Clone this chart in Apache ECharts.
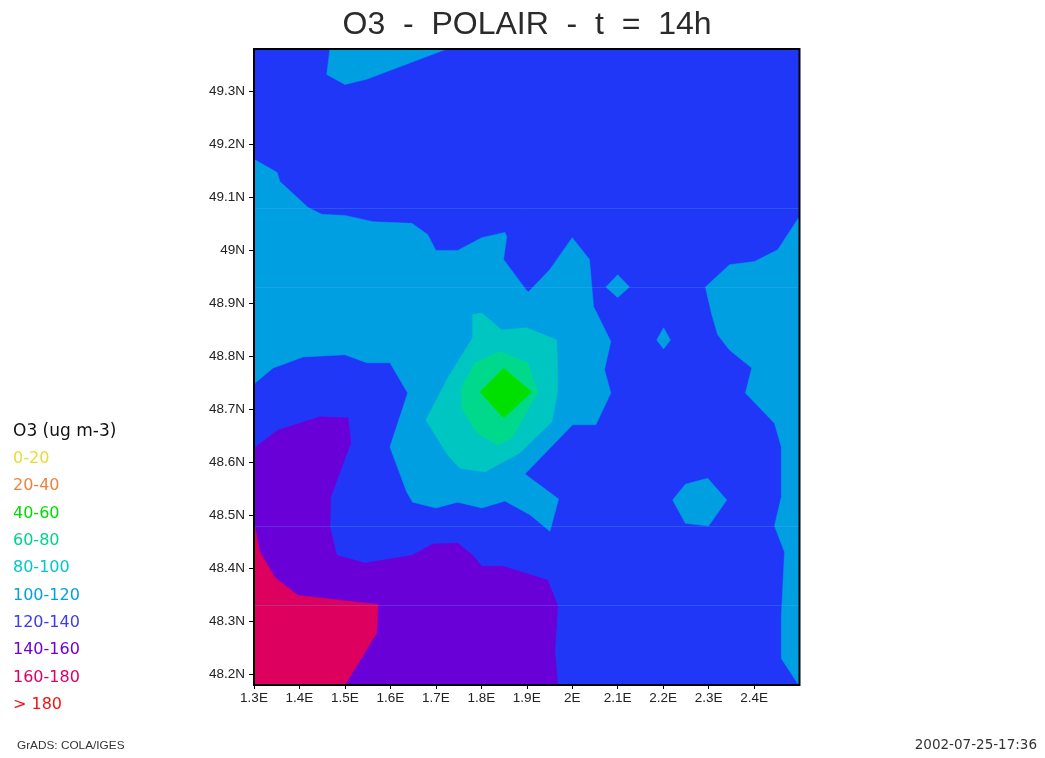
<!DOCTYPE html>
<html><head><meta charset="utf-8">
<style>html,body{margin:0;padding:0;background:#fff}#c{width:1045px;height:758px}</style>
<script src="https://cdn.jsdelivr.net/npm/echarts@6/dist/echarts.min.js"></script>
</head><body><div id="c"></div>
<script>
const xTicks=[1.3,1.4,1.5,1.6,1.7,1.8,1.9,2.0,2.1,2.2,2.3,2.4];
const xTickLabels=['1.3E','1.4E','1.5E','1.6E','1.7E','1.8E','1.9E','2E','2.1E','2.2E','2.3E','2.4E'];
const yTicks=[48.2,48.3,48.4,48.5,48.6,48.7,48.8,48.9,49.0,49.1,49.2,49.3];
const yTickLabels=['48.2N','48.3N','48.4N','48.5N','48.6N','48.7N','48.8N','48.9N','49N','49.1N','49.2N','49.3N'];
const legendLabels=['0-20','20-40','40-60','60-80','80-100','100-120','120-140','140-160','160-180','> 180'];
const legendColors=['#e6dc32','#f0823c','#00dc00','#00d28c','#00c8c8','#00a0e6','#3c3cf0','#6e00dc','#dc0064','#f01414'];
const seamLats=[49.08,48.93,48.48,48.33];

// contour bands: polygons of [lon, lat]
const band120_140=[[[1.3,48.18],[2.5,48.18],[2.5,49.38],[1.3,49.38]]];
const band100_120=[
 [[1.467,49.38],[1.46,49.332],[1.5,49.313],[1.548,49.323],[1.724,49.38]],
 [[1.3,49.172],[1.351,49.147],[1.357,49.13],[1.419,49.081],[1.449,49.068],[1.5,49.066],[1.562,49.054],[1.647,49.051],[1.682,49.03],[1.7,49.0],[1.748,49.0],[1.801,49.024],[1.852,49.034],[1.856,49.026],[1.849,48.983],[1.9,48.924],[1.904,48.922],[1.951,48.964],[2.0,49.024],[2.038,48.983],[2.047,48.894],[2.085,48.828],[2.071,48.775],[2.085,48.731],[2.052,48.671],[2.001,48.671],[1.896,48.578],[1.97,48.531],[1.951,48.47],[1.907,48.501],[1.852,48.527],[1.801,48.514],[1.748,48.525],[1.7,48.514],[1.649,48.525],[1.636,48.544],[1.599,48.629],[1.638,48.731],[1.599,48.788],[1.548,48.788],[1.5,48.803],[1.408,48.799],[1.342,48.778],[1.3,48.748]],
 [[2.5,49.064],[2.452,49.001],[2.401,48.979],[2.346,48.973],[2.293,48.931],[2.307,48.879],[2.32,48.841],[2.346,48.812],[2.395,48.778],[2.381,48.731],[2.445,48.674],[2.46,48.629],[2.46,48.535],[2.445,48.48],[2.467,48.431],[2.46,48.308],[2.46,48.23],[2.496,48.183],[2.5,48.18]],
 [[2.074,48.931],[2.1,48.954],[2.126,48.931],[2.1,48.911]],
 [[2.186,48.831],[2.201,48.854],[2.216,48.831],[2.201,48.814]],
 [[2.221,48.529],[2.249,48.559],[2.298,48.57],[2.34,48.529],[2.3,48.48],[2.249,48.485]]
];
const band80_100=[[[1.781,48.879],[1.801,48.882],[1.845,48.85],[1.9,48.854],[1.966,48.831],[1.968,48.771],[1.968,48.733],[1.955,48.676],[1.885,48.618],[1.808,48.582],[1.753,48.589],[1.726,48.614],[1.678,48.68],[1.726,48.759],[1.781,48.835]]];
const band60_80=[[[1.841,48.809],[1.902,48.788],[1.924,48.733],[1.867,48.646],[1.836,48.633],[1.79,48.656],[1.757,48.703],[1.757,48.741],[1.786,48.788]]];
const band40_60=[[[1.849,48.778],[1.911,48.733],[1.849,48.684],[1.797,48.733]]];
const band140_160=[[[1.3,48.627],[1.353,48.661],[1.445,48.686],[1.507,48.684],[1.513,48.637],[1.469,48.535],[1.467,48.478],[1.482,48.425],[1.544,48.41],[1.649,48.425],[1.693,48.446],[1.748,48.448],[1.781,48.425],[1.801,48.404],[1.848,48.404],[1.946,48.378],[1.968,48.33],[1.962,48.245],[1.968,48.18],[1.3,48.18]]];
const band160_180=[[[1.3,48.487],[1.313,48.431],[1.346,48.383],[1.397,48.349],[1.573,48.332],[1.57,48.278],[1.5,48.18],[1.3,48.18]]];

const fillColors={'120-140':'#2137f8','100-120':'#009fe2','80-100':'#00c6c2','60-80':'#00d98c','40-60':'#00e000','140-160':'#6a00d8','160-180':'#de005e'};
const drawOrder=[['120-140',band120_140],['100-120',band100_120],['80-100',band80_100],['60-80',band60_80],['40-60',band40_60],['140-160',band140_160],['160-180',band160_180],['0-20',[]],['20-40',[]],['> 180',[]]];

const series=drawOrder.map(([name,polys])=>({
  name,type:'custom',coordinateSystem:'cartesian2d',clip:true,silent:true,
  itemStyle:{color:fillColors[name]||'#fff'},
  data:polys.map(p=>p[0]),
  renderItem:(params,api)=>({type:'polygon',
    shape:{points:polys[params.dataIndex].map(p=>api.coord(p))},
    style:{fill:fillColors[name],stroke:fillColors[name],lineWidth:0.5}})
}));
series[6].markLine={silent:true,animation:false,symbol:'none',label:{show:false},
  lineStyle:{type:'solid',width:1,color:'rgba(90,190,255,0.22)'},data:seamLats.map(v=>({yAxis:v}))};

const chart=echarts.init(document.getElementById('c'),null,{renderer:'canvas'});
const tickFont={fontFamily:'Liberation Sans',fontSize:13.5,color:'#222'};
const plain=(size,family,color)=>({fontFamily:family,fontWeight:'normal',fontSize:size,color});
chart.setOption({
  animation:false,backgroundColor:'#fff',
  title:[
   {text:'O3  -  POLAIR  -  t  =  14h',left:522,top:4,textAlign:'center',textStyle:plain(32,'Liberation Sans','#2a2a2a')},
   {text:'O3 (ug m-3)',left:8,top:418,textStyle:plain(17,'DejaVu Sans','#111')},
   {text:'GrADS: COLA/IGES',left:12,top:735,textStyle:plain(11.8,'Liberation Sans','#333')},
   {text:'2002-07-25-17:36',right:3,top:733,textStyle:plain(13.5,'DejaVu Sans','#333')}
  ],
  legend:{orient:'vertical',left:8,top:451,padding:0,itemWidth:0,itemHeight:14,itemGap:11.33,selectedMode:false,
    data:legendLabels.map((n,i)=>({name:n,icon:'rect',itemStyle:{opacity:0},textStyle:{color:legendColors[i],fontFamily:'DejaVu Sans',fontSize:16}}))},
  grid:{left:254,top:49,width:545.5,height:636,show:true,z:10,backgroundColor:'transparent',borderColor:'#000',borderWidth:2},
  xAxis:{type:'value',min:1.3,max:2.5,z:10,splitLine:{show:false},
    axisLine:{show:false},axisTick:{customValues:xTicks,length:4,lineStyle:{color:'#000',width:1}},
    axisLabel:{customValues:xTicks,formatter:v=>xTickLabels[xTicks.indexOf(v)],margin:6,...tickFont}},
  yAxis:{type:'value',min:48.18,max:49.38,z:10,splitLine:{show:false},
    axisLine:{show:false},axisTick:{customValues:yTicks,length:5,lineStyle:{color:'#000',width:1}},
    axisLabel:{customValues:yTicks,formatter:v=>yTickLabels[yTicks.indexOf(v)],margin:9,...tickFont}},
  series
});
</script></body></html>
